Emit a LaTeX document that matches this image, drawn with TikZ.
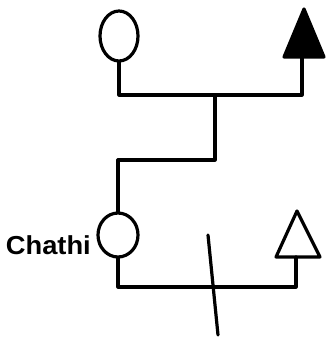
\documentclass[tikz,border=0pt]{standalone}
\usepackage{fontspec}
\setmainfont{Liberation Sans}
\usetikzlibrary{shapes.geometric}
\begin{document}
\begin{tikzpicture}[x=1pt,y=-1pt,line join=round,line cap=round,
  every path/.style={line width=3.2pt},
  female/.style={draw,ellipse,inner sep=0pt,line width=3.2pt},
  lbl/.style={font=\fontsize{26}{26}\selectfont\bfseries}]
\useasboundingbox (0,0) rectangle (326,345);
\node[female,minimum width=38pt,minimum height=50pt] (m1) at (119,36) {};
\node[female,minimum width=40pt,minimum height=44pt] (m2) at (118,235) {};
\node[lbl,anchor=east,xscale=1.05] (t) at (96,245) {Chathi};
% male symbols
\coordinate (f1a) at (304,9);
\coordinate (f1b) at (302,57);
\coordinate (f2a) at (297,211);
\coordinate (f2b) at (296,257);
\draw[fill=black] (f1a) -- (324,57) -- (284,57) -- cycle;
\draw (f2a) -- (320,257) -- (276,257) -- cycle;
\coordinate (j1) at (215,95);
\coordinate (j2) at (215,160);
\coordinate (j3) at (214,287);
\coordinate (s1) at (208,235);
\coordinate (s2) at (218,335);
\draw (m1.south) |- (j1);
\draw (j1) -| (f1b);
\draw (j1) -- (j2) -| (m2.north);
\draw (m2.south) |- (j3);
\draw (j3) -| (f2b);
\draw (s1) -- (s2);
\end{tikzpicture}
\end{document}
